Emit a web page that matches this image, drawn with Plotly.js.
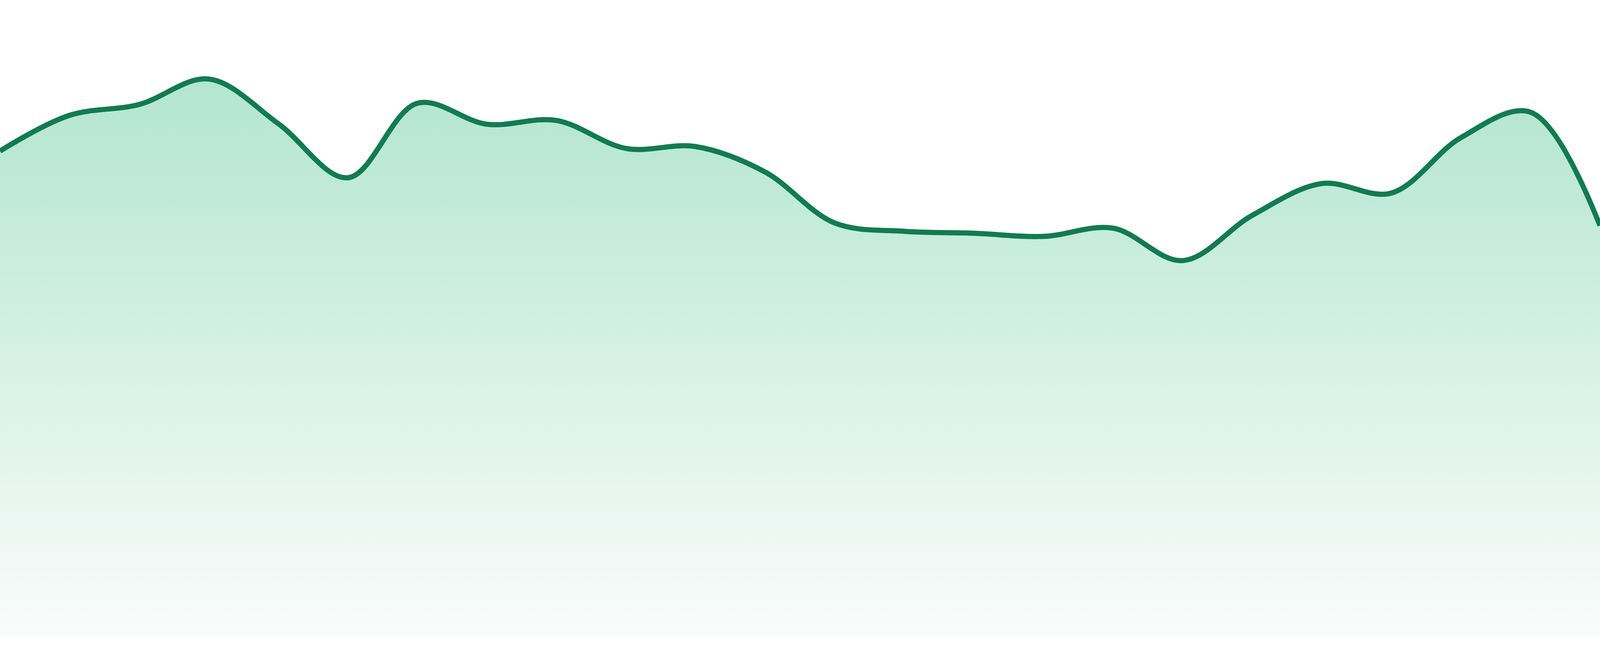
<!DOCTYPE html>
<html>
<head>
<meta charset="utf-8">
<script src="https://cdn.plot.ly/plotly-3.0.1.min.js"></script>
<style>
  html, body { margin: 0; padding: 0; background: #ffffff; overflow: hidden; }
  #spark { width: 100vw; height: 100vh; }
</style>
</head>
<body>
<div id="spark"></div>
<script>
  // data

  var days = [1, 2, 3, 4, 5, 6, 7, 8, 9, 10, 11, 12,
              13, 14, 15, 16, 17, 18, 19, 20, 21, 22, 23, 24];

  var values = [76.3, 81.9, 83.6, 87.6, 80.6, 72.1, 83.8, 80.5,
                81.1, 76.7, 77.0, 73.0, 65.0, 63.7, 63.4, 62.9,
                64.2, 59.1, 66.2, 71.2, 69.7, 78.4, 82.4, 64.6];

  // fill the viewport, sizes scaled from the 4800x1680 design

  var W = window.innerWidth;
  var H = window.innerHeight;
  var k = W / 4800;

  var trace = {
    x: days,
    y: values,
    type: 'scatter',
    mode: 'lines',
    line: { color: '#117b51', width: 15.5 * k, shape: 'spline', smoothing: 1 },
    fill: 'tozeroy',
    fillgradient: {
      type: 'vertical',
      start: 0,
      stop: 100,
      colorscale: [[0, 'rgb(250,252,251)'], [1, 'rgb(168,226,202)']]
    },
    hoverinfo: 'skip'
  };

  var layout = {
    width: W,
    height: H,
    margin: { l: 0, r: 0, t: 0, b: Math.round(H * 48 / 1680), pad: 0 },
    paper_bgcolor: '#ffffff',
    plot_bgcolor: '#ffffff',
    showlegend: false,
    xaxis: { visible: false, range: [1, 24], fixedrange: true },
    yaxis: { visible: false, range: [0, 100], fixedrange: true }
  };

  Plotly.newPlot('spark', [trace], layout, { displayModeBar: false, staticPlot: true });
</script>
</body>
</html>
